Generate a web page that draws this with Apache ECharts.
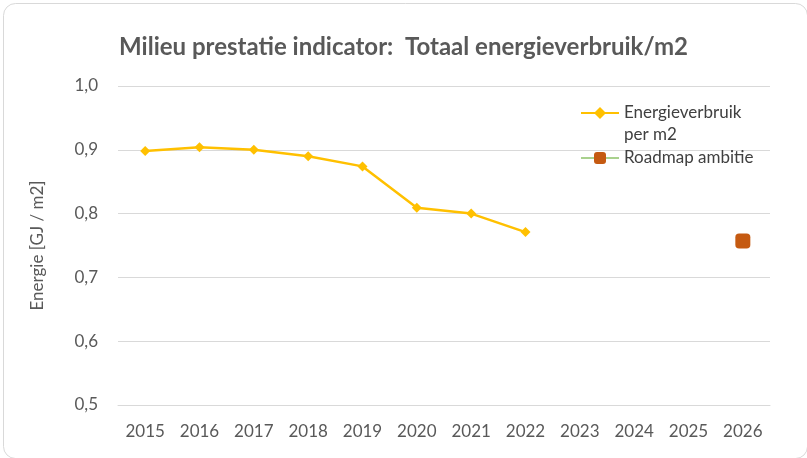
<!DOCTYPE html>
<html>
<head>
<meta charset="utf-8">
<script src="https://cdn.jsdelivr.net/npm/echarts@6/dist/echarts.min.js"></script>
<style>
  html, body { margin: 0; padding: 0; background: #fff; }
  #chart { width: 807px; height: 458px; }
</style>
</head>
<body>
<div id="chart"></div>
<script>
// jaren op de x-as
var years = ['2015', '2016', '2017', '2018', '2019', '2020', '2021', '2022', '2023', '2024', '2025', '2026']
// energieverbruik per m2 (GJ)
var verbruik = [0.898, 0.904, 0.900, 0.890, 0.874, 0.809, 0.800, 0.771, null, null, null, null]
// roadmap ambitie
var ambitie = [null, null, null, null, null, null, null, null, null, null, null, 0.757]

var chart = echarts.init(document.getElementById('chart'))
var font = 'Lato, "Open Sans", sans-serif'
var option = {
  backgroundColor: '#fff',
  textStyle: { fontFamily: font },
  graphic: [{
    type: 'rect',
    left: 1, top: 1,
    shape: { width: 804, height: 455, r: 12 },
    style: { fill: 'none', stroke: '#d9d9d9', lineWidth: 1 }
  }],
  title: {
    text: 'Milieu prestatie indicator:  Totaal energieverbruik/m2',
    left: 'center',
    top: 30,
    textStyle: { color: '#595959', fontSize: 24, fontWeight: 'bold', fontFamily: font }
  },
  legend: {
    orient: 'vertical',
    left: 580,
    top: 80,
    padding: 0,
    itemWidth: 38,
    itemHeight: 15,
    itemGap: 1,
    textStyle: { color: '#404040', fontSize: 17, lineHeight: 22, fontFamily: font },
    // lege eerste regel zodat het icoon bij de eerste tekstregel staat
    formatter: function (name) {
      return name.indexOf('\n') >= 0 ? '\n' + name : name
    },
    data: ['Energieverbruik\nper m2', 'Roadmap ambitie']
  },
  grid: { left: 118, right: 37, top: 86, bottom: 53 },
  xAxis: {
    type: 'category',
    data: years,
    axisLine: { lineStyle: { color: '#d9d9d9' } },
    axisTick: { show: false },
    axisLabel: { color: '#595959', fontSize: 17, margin: 18 }
  },
  yAxis: {
    type: 'value',
    min: 0.5,
    max: 1.0,
    interval: 0.1,
    name: 'Energie [GJ / m2]',
    nameLocation: 'middle',
    nameGap: 72,
    nameTextStyle: { color: '#595959', fontSize: 17 },
    axisLine: { show: false },
    axisTick: { show: false },
    splitLine: { lineStyle: { color: '#d9d9d9' } },
    axisLabel: {
      color: '#595959', fontSize: 17, margin: 20,
      formatter: function (v) { return v.toFixed(1).replace('.', ',') }
    }
  },
  series: [
    {
      name: 'Energieverbruik\nper m2',
      type: 'line',
      data: verbruik,
      symbol: 'diamond',
      symbolSize: 10,
      lineStyle: { color: '#FFC000', width: 2.5 },
      itemStyle: { color: '#FFC000' }
    },
    {
      name: 'Roadmap ambitie',
      type: 'line',
      data: ambitie,
      symbol: 'roundRect',
      symbolSize: 15,
      lineStyle: { color: '#A9D18E', width: 2 },
      itemStyle: { color: '#C55A11' }
    }
  ]
}
chart.setOption(option)
</script>
</body>
</html>
